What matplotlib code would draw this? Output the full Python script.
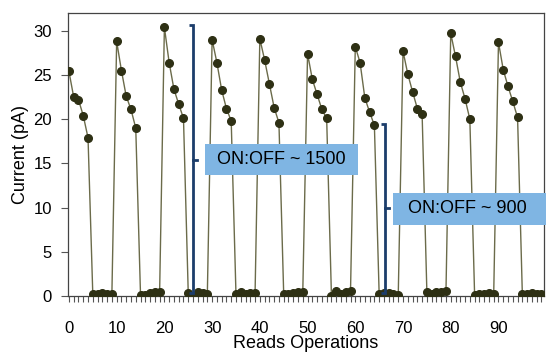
import matplotlib
matplotlib.use("Agg")
import matplotlib.pyplot as plt
from matplotlib.patches import Rectangle
from matplotlib.ticker import MultipleLocator
import numpy as np

plt.rcParams['font.family'] = ['Liberation Sans', 'DejaVu Sans']

# ---- data ----
reads = list(range(100))
on_cycles = [
    [25.4, 22.5, 22.2, 20.4, 17.9],
    [28.8, 25.5, 22.6, 21.1, 19.0],
    [30.4, 26.4, 23.4, 21.7, 20.1],
    [29.0, 26.4, 23.3, 21.2, 19.8],
    [29.1, 26.7, 24.0, 21.3, 19.6],
    [27.4, 24.5, 22.8, 21.1, 20.1],
    [28.2, 26.4, 22.4, 20.8, 19.3],
    [27.7, 25.1, 23.1, 21.2, 20.6],
    [29.7, 27.1, 24.2, 22.3, 20.0],
    [28.7, 25.6, 23.7, 22.0, 20.2],
]
off_cycles = [
    [0.2, 0.2, 0.3, 0.2, 0.2],
    [0.1, 0.1, 0.3, 0.4, 0.4],
    [0.3, 0.0, 0.5, 0.3, 0.2],
    [0.2, 0.4, 0.2, 0.3, 0.3],
    [0.2, 0.2, 0.3, 0.4, 0.5],
    [0.05, 0.6, 0.25, 0.4, 0.55],
    [0.2, 0.3, 0.3, 0.2, 0.1],
    [0.4, 0.2, 0.45, 0.45, 0.55],
    [0.1, 0.2, 0.2, 0.3, 0.2],
    [0.2, 0.2, 0.3, 0.2, 0.2],
]
current = []
for on, off in zip(on_cycles, off_cycles):
    current += on + off

xticks = [0, 10, 20, 30, 40, 50, 60, 70, 80, 90]
annot1 = "ON:OFF ~ 1500"
annot2 = "ON:OFF ~ 900"

fig = plt.figure(figsize=(5.46, 3.54), dpi=100)
ax = fig.add_axes([0.1245, 0.164, 0.8715, 0.799])

ax.plot(reads, current, color='#6b6b4a', lw=1.0, marker='o', markersize=5.5,
        markerfacecolor='#2e3014', markeredgecolor='#2e3014', zorder=3)

ax.set_xlim(-0.2, 99.5)
ax.set_ylim(0, 32)
ax.set_xticks(xticks)
ax.xaxis.set_minor_locator(MultipleLocator(1))
ax.set_yticks([0, 5, 10, 15, 20, 25, 30])
ax.tick_params(axis='x', which='major', length=4, width=0.8, labelsize=12, pad=14, color='#555555')
ax.tick_params(axis='x', which='minor', length=4, width=0.8, color='#555555')
ax.tick_params(axis='y', length=5, width=0.8, labelsize=12, pad=6.5, color='#555555')
for s in ax.spines.values():
    s.set_color('#444444')
    s.set_linewidth(0.9)
ax.set_xlabel('Reads Operations', fontsize=13, labelpad=-1)
ax.set_ylabel('Current (pA)', fontsize=13, labelpad=3)

navy = '#1c3d6b'
def bracket(x, y0, y1, ym):
    h = 0.9
    ax.plot([x - h, x, x, x - h], [y1, y1, y0, y0], color=navy, lw=2, zorder=4,
            solid_capstyle='butt', solid_joinstyle='miter', clip_on=False)
    ax.plot([x, x + h], [ym, ym], color=navy, lw=2, zorder=4, clip_on=False)

bracket(26.0, 0.3, 30.6, 15.4)
bracket(66.2, 0.3, 19.5, 10.0)

box = '#7fb5e3'
ax.add_patch(Rectangle((28.5, 13.7), 32.1, 3.5, facecolor=box, edgecolor='none',
                       zorder=5, clip_on=False))
ax.text(44.5, 15.45, annot1, ha='center', va='center', fontsize=13, zorder=6)
ax.add_patch(Rectangle((67.9, 8.0), 32.3, 3.7, facecolor=box, edgecolor='none',
                       zorder=5, clip_on=False))
ax.text(83.5, 9.85, annot2, ha='center', va='center', fontsize=13, zorder=6)

fig.savefig('out.png', dpi=100)
